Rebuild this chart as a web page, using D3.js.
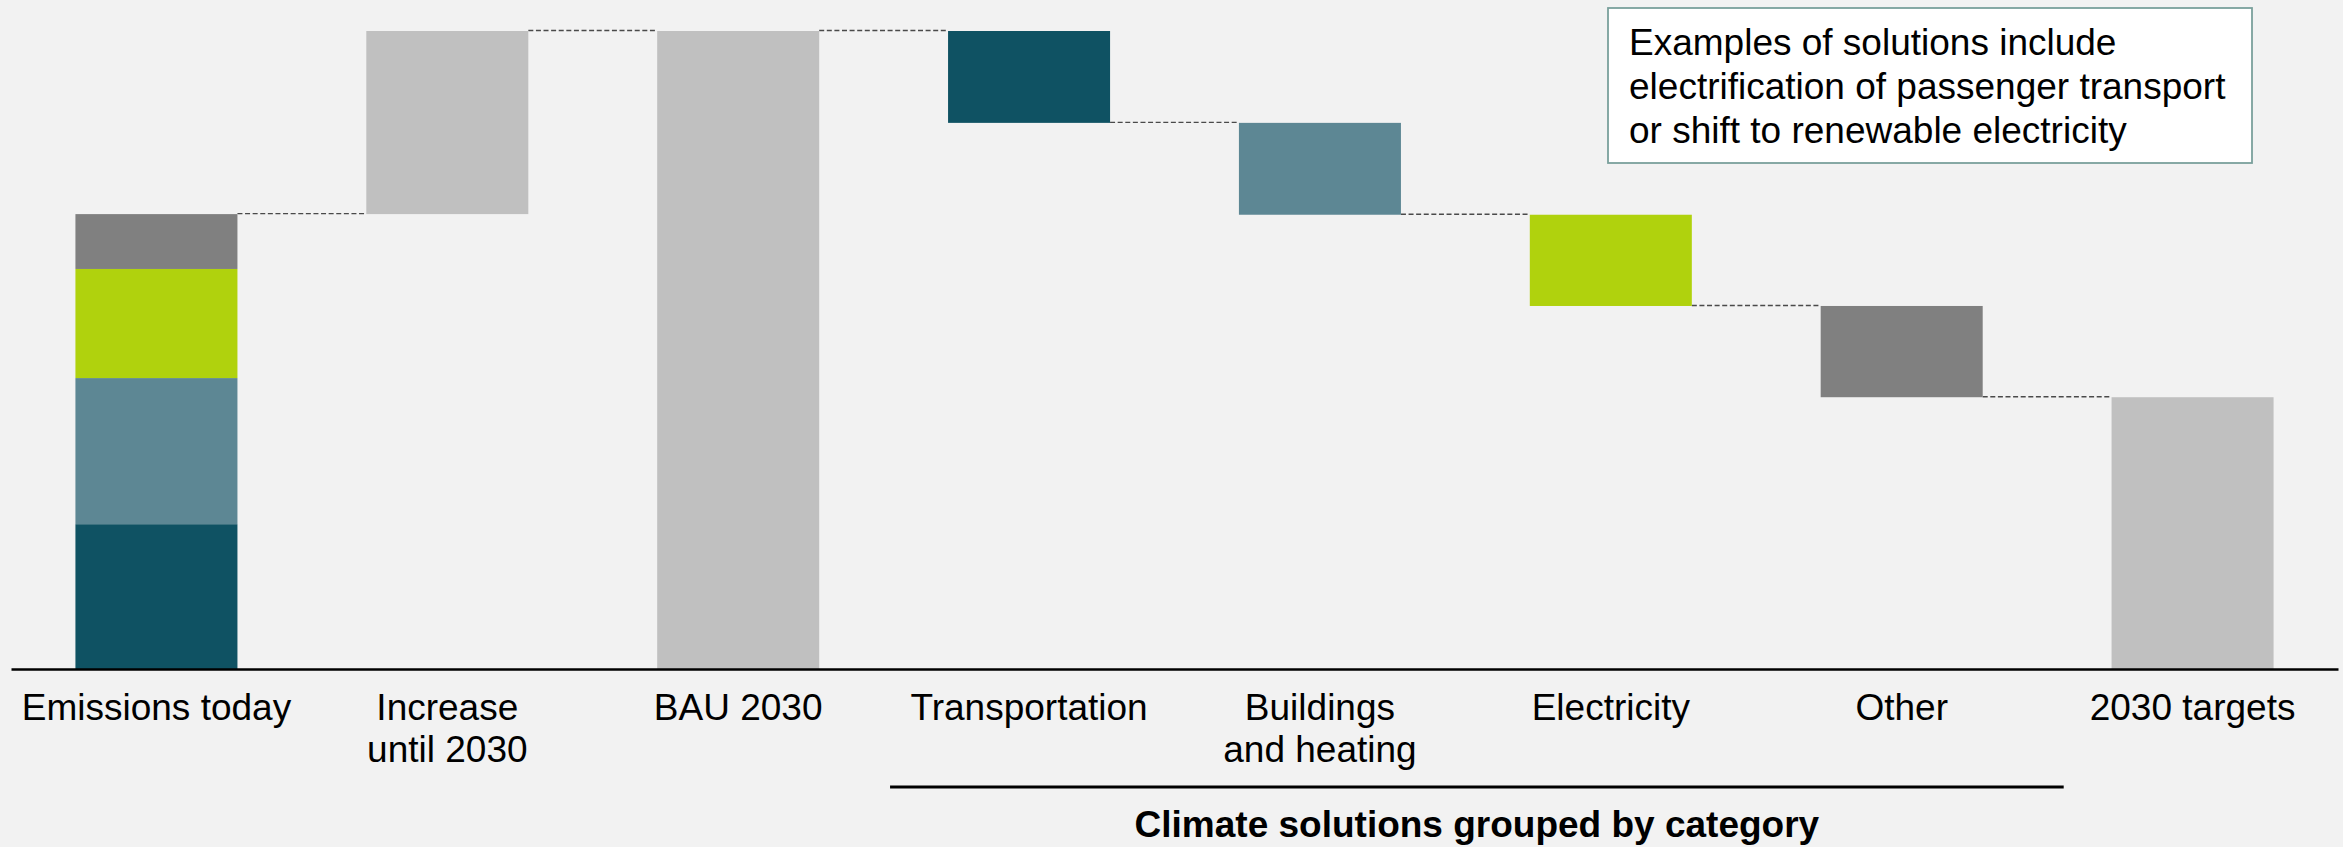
<!DOCTYPE html>
<html>
<head>
<meta charset="utf-8">
<script src="https://cdn.jsdelivr.net/npm/d3@7"></script>
<style>
  html, body { margin: 0; padding: 0; background: #f2f2f2; }
  svg { display: block; font-family: "Liberation Sans", Arial, sans-serif; }
</style>
</head>
<body>
<script>
// categories along the x axis (line breaks as in the picture)
var categories = ["Emissions today", "Increase until 2030", "BAU 2030", "Transportation",
  "Buildings and heating", "Electricity", "Other", "2030 targets"];
var labelLines = [["Emissions today"], ["Increase", "until 2030"], ["BAU 2030"], ["Transportation"],
  ["Buildings", "and heating"], ["Electricity"], ["Other"], ["2030 targets"]];

// sectors, stacked bottom to top in "Emissions today"
var sectors = ["Transportation", "Buildings and heating", "Electricity", "Other"];
var todayValues = [22.7, 22.9, 17.1, 8.6];
var increaseValue = 28.7;
var reductionValues = [14.4, 14.4, 14.3, 14.3];

var sectorColors = ["#0f5263", "#5d8794", "#b0d20d", "#808080"];
var totalColor = "#c0c0c0";

var noteLines = ["Examples of solutions include", "electrification of passenger transport",
  "or shift to renewable electricity"];
var groupTitle = "Climate solutions grouped by category";

var width = 2343, height = 847;

var svg = d3.select("body").append("svg")
  .attr("width", width)
  .attr("height", height);

var x = d3.scaleBand()
  .domain(categories)
  .range([11, 2338])
  .paddingInner(0.443)
  .paddingOuter(0.2215);

var y = d3.scaleLinear()
  .domain([0, 100])
  .range([669, 31]);

// build waterfall pieces
var bars = [];
var acc = 0;
todayValues.forEach(function (v, i) {
  bars.push({cat: categories[0], y0: acc, y1: acc + v, color: sectorColors[i]});
  acc += v;
});
var today = acc;
bars.push({cat: categories[1], y0: today, y1: today + increaseValue, color: totalColor});
var bau = today + increaseValue;
bars.push({cat: categories[2], y0: 0, y1: bau, color: totalColor});
var level = bau;
reductionValues.forEach(function (v, i) {
  bars.push({cat: categories[3 + i], y0: level - v, y1: level, color: sectorColors[i]});
  level -= v;
});
bars.push({cat: categories[7], y0: 0, y1: level, color: totalColor});

// connectors between consecutive columns
var levels = [today, bau, bau, bau - reductionValues[0],
  bau - reductionValues[0] - reductionValues[1],
  bau - reductionValues[0] - reductionValues[1] - reductionValues[2], level];
var links = levels.map(function (v, i) {
  return {from: categories[i], to: categories[i + 1], value: v};
});

svg.selectAll(".link")
  .data(links)
  .enter().append("line")
  .attr("class", "link")
  .attr("x1", function (d) { return x(d.from) + x.bandwidth(); })
  .attr("x2", function (d) { return x(d.to); })
  .attr("y1", function (d) { return y(d.value) - 0.5; })
  .attr("y2", function (d) { return y(d.value) - 0.5; })
  .attr("stroke", "#4a4a4a")
  .attr("stroke-width", 1.4)
  .attr("stroke-dasharray", "5,2.6");

svg.selectAll(".bar")
  .data(bars)
  .enter().append("rect")
  .attr("class", "bar")
  .attr("x", function (d) { return x(d.cat); })
  .attr("width", x.bandwidth())
  .attr("y", function (d) { return y(d.y1); })
  .attr("height", function (d) { return y(d.y0) - y(d.y1); })
  .attr("fill", function (d) { return d.color; });

// x axis
var xAxis = d3.axisBottom(x).tickSize(0).tickSizeOuter(0);
var gx = svg.append("g")
  .attr("transform", "translate(0," + y(0) + ")")
  .call(xAxis);
gx.select(".domain").attr("stroke", "#000").attr("stroke-width", 2.4);
gx.selectAll(".tick text").each(function (d, i) {
  var t = d3.select(this).text(null)
    .attr("y", 51).attr("dy", null)
    .attr("fill", "#000")
    .style("font-size", "37px")
    .style("font-family", "'Liberation Sans', Arial, sans-serif");
  labelLines[i].forEach(function (line, j) {
    t.append("tspan").attr("x", 0).attr("dy", j === 0 ? 0 : 42).text(line);
  });
});

// group bracket under the solution categories
var gx0 = x(categories[3]) - 58;
var gx1 = x(categories[6]) + x.bandwidth() + 81;
svg.append("line")
  .attr("x1", gx0).attr("x2", gx1)
  .attr("y1", 787).attr("y2", 787)
  .attr("stroke", "#000")
  .attr("stroke-width", 2.8);
svg.append("text")
  .attr("x", (gx0 + gx1) / 2)
  .attr("y", 837)
  .attr("text-anchor", "middle")
  .style("font-size", "37px")
  .style("font-weight", "bold")
  .text(groupTitle);

// note box
var note = svg.append("g").attr("transform", "translate(1608,8)");
note.append("rect")
  .attr("width", 644)
  .attr("height", 155)
  .attr("fill", "#fff")
  .attr("stroke", "#7aa09c")
  .attr("stroke-width", 1.8);
note.selectAll("text")
  .data(noteLines)
  .enter().append("text")
  .attr("x", 21)
  .attr("y", function (d, i) { return 47 + i * 44; })
  .style("font-size", "37px")
  .attr("fill", "#000")
  .text(function (d) { return d; });
</script>
</body>
</html>
